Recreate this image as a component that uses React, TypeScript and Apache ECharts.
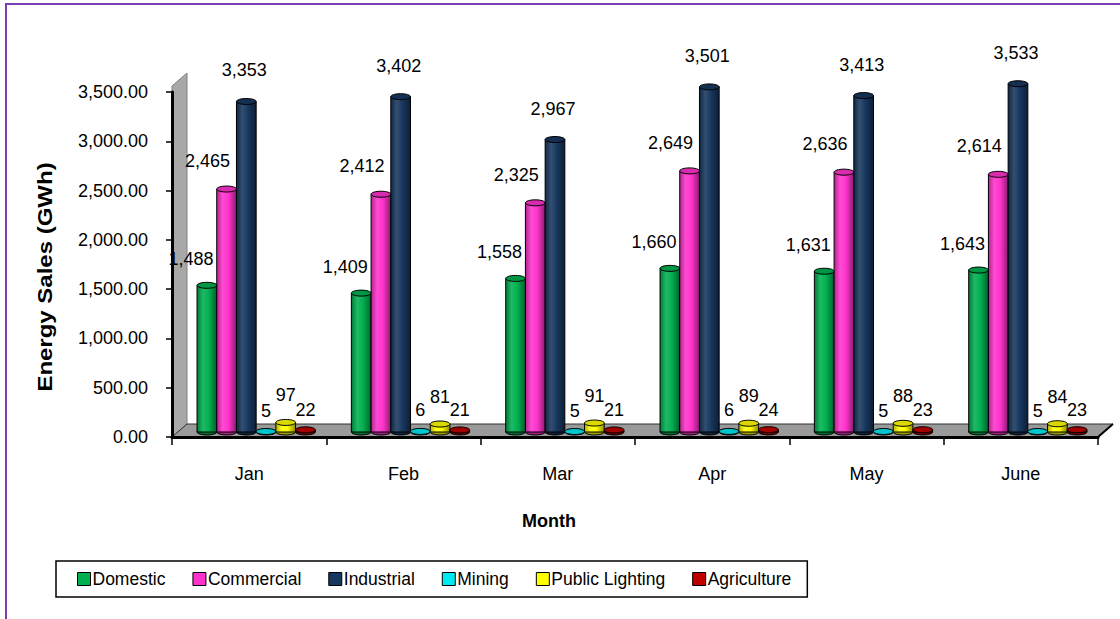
import React, { useEffect, useRef } from "react";
import * as echarts from "echarts";

const months = ["Jan", "Feb", "Mar", "Apr", "May", "June"];
const seriesNames = ["Domestic", "Commercial", "Industrial", "Mining", "Public Lighting", "Agriculture"];
const domestic = [1488, 1409, 1558, 1660, 1631, 1643];
const commercial = [2465, 2412, 2325, 2649, 2636, 2614];
const industrial = [3353, 3402, 2967, 3501, 3413, 3533];
const mining = [5, 6, 5, 6, 5, 5];
const publicLighting = [97, 81, 91, 89, 88, 84];
const agriculture = [22, 21, 21, 24, 23, 23];
const seriesValues = [domestic, commercial, industrial, mining, publicLighting, agriculture];
const yTicks = { min: 0, max: 3500, interval: 500 };

const colors = ["#00b050", "#ff33cc", "#17375e", "#00e8f0", "#ffff00", "#c00000"];
// label offsets (dx, dy) of the value label centre relative to bar top
const labelOffsets = [
  [-16, -26],
  [-19, -28],
  [-2, -31],
  [0, -21],
  [0, -27],
  [0, -20],
];

const FONT = '"Liberation Sans", Arial, sans-serif';
const GRID = { left: 172, right: 22, top: 92, bottom: 182 };
const W = 1120;
const H = 619;
const DEPTH_X = 15;
const DEPTH_Y = -13;
const BAR_DX = 7;
const BAR_DY = -5;

function shade(hex: string, f: number): string {
  const n = parseInt(hex.slice(1), 16);
  let r = (n >> 16) & 255, g = (n >> 8) & 255, b = n & 255;
  if (f <= 1) {
    r = Math.round(r * f); g = Math.round(g * f); b = Math.round(b * f);
  } else {
    const t = f - 1;
    r = Math.round(r + (255 - r) * t); g = Math.round(g + (255 - g) * t); b = Math.round(b + (255 - b) * t);
  }
  return `rgb(${r},${g},${b})`;
}

function makeRenderItem(si: number) {
  const color = colors[si];
  return (params: any, api: any) => {
    const idx = api.value(0);
    const val = api.value(1);
    const base = api.coord([idx, 0]);
    const top = api.coord([idx, val]);
    const catW = api.size([1, 0])[0];
    const barW = catW * 0.1277;
    const cx = base[0] + BAR_DX + (si - 2.5) * barW;
    const yBase = base[1] + BAR_DY;
    const yTop = top[1] + BAR_DY;
    const rx = barW / 2;
    const ry = 3;
    const grad = new echarts.graphic.LinearGradient(0, 0, 1, 0, [
      { offset: 0, color: shade(color, 0.7) },
      { offset: 0.3, color: shade(color, 1.12) },
      { offset: 0.6, color: color },
      { offset: 1, color: shade(color, 0.55) },
    ]);
    const [dx, dy] = labelOffsets[si];
    return {
      type: "group",
      children: [
        {
          type: "ellipse",
          shape: { cx, cy: yBase, rx, ry },
          style: { fill: shade(color, 0.6), stroke: "#000", lineWidth: 1 },
        },
        {
          type: "rect",
          shape: { x: cx - rx, y: yTop, width: barW, height: Math.max(0, yBase - yTop) },
          style: { fill: grad, stroke: "#000", lineWidth: 1 },
        },
        {
          type: "ellipse",
          shape: { cx, cy: yTop, rx, ry },
          style: { fill: shade(color, 0.85), stroke: "#000", lineWidth: 1 },
        },
        {
          type: "text",
          x: cx + dx,
          y: yTop + dy,
          style: {
            text: Math.round(val).toLocaleString("en-US"),
            fill: "#000",
            font: `18px ${FONT}`,
            align: "center",
            verticalAlign: "middle",
          },
        },
      ],
    };
  };
}

export default function App() {
  const ref = useRef<HTMLDivElement>(null);
  useEffect(() => {
    if (!ref.current) return;
    const chart = echarts.init(ref.current, undefined, { renderer: "svg" });
    const L = GRID.left;
    const R = W - GRID.right;
    const B = H - GRID.bottom;
    const T = GRID.top;
    const option: any = {
      animation: false,
      color: colors,
      textStyle: { fontFamily: FONT },
      grid: { ...GRID, containLabel: false },
      legend: {
        left: 56,
        top: 561,
        orient: "horizontal",
        icon: "rect",
        itemWidth: 13,
        itemHeight: 13,
        itemGap: 27,
        borderColor: "#000",
        borderWidth: 1.5,
        padding: [9, 16, 9, 21],
        itemStyle: { borderColor: "#000", borderWidth: 1 },
        textStyle: { fontSize: 17.5, color: "#000", fontFamily: FONT, padding: [0, 0, 0, -3] },
        data: seriesNames,
      },
      xAxis: {
        type: "category",
        data: months,
        boundaryGap: true,
        axisLine: { lineStyle: { color: "#000", width: 3 } },
        axisTick: { show: true, length: 8, lineStyle: { color: "#000", width: 1.5 } },
        axisLabel: { fontSize: 18, color: "#000", margin: 28, fontFamily: FONT },
        splitLine: { show: false },
      },
      yAxis: {
        type: "value",
        min: yTicks.min,
        max: yTicks.max,
        interval: yTicks.interval,
        axisLine: { show: true, lineStyle: { color: "#000", width: 3 } },
        axisTick: { show: true, length: 6, lineStyle: { color: "#000", width: 1.5 } },
        splitLine: { show: false },
        axisLabel: {
          fontSize: 18,
          color: "#000",
          margin: 24,
          fontFamily: FONT,
          formatter: (v: number) =>
            v.toLocaleString("en-US", { minimumFractionDigits: 2, maximumFractionDigits: 2 }),
        },
      },
      graphic: [
        {
          type: "polygon",
          z: -10,
          shape: { points: [[L, B], [L, T - 6], [L + DEPTH_X, T - 6 + DEPTH_Y], [L + DEPTH_X, B + DEPTH_Y]] },
          style: { fill: "#a8a8a8", stroke: "#808080", lineWidth: 1 },
        },
        {
          type: "polygon",
          z: -10,
          shape: { points: [[L, B], [L + DEPTH_X, B + DEPTH_Y], [R + DEPTH_X, B + DEPTH_Y], [R, B]] },
          style: { fill: "#9a9a9a", stroke: "#333", lineWidth: 1 },
        },
        {
          type: "line",
          z: -5,
          shape: { x1: R, y1: B, x2: R + DEPTH_X, y2: B + DEPTH_Y },
          style: { stroke: "#000", lineWidth: 2 },
        },
        {
          type: "text",
          x: 45,
          y: 277,
          rotation: Math.PI / 2,
          scaleX: 1.2,
          style: {
            text: "Energy Sales (GWh)",
            font: `bold 20px ${FONT}`,
            fill: "#000",
            align: "center",
            verticalAlign: "middle",
          },
        },
        {
          type: "text",
          x: 549,
          y: 521,
          style: {
            text: "Month",
            font: `bold 18px ${FONT}`,
            fill: "#000",
            align: "center",
            verticalAlign: "middle",
          },
        },
        {
          type: "line",
          shape: { x1: 6, y1: 3, x2: 6, y2: H },
          style: { stroke: "#7a3fb5", lineWidth: 2 },
        },
        {
          type: "line",
          shape: { x1: 5, y1: 4, x2: W, y2: 4 },
          style: { stroke: "#7a3fb5", lineWidth: 2 },
        },
      ],
      series: seriesNames.map((name, si) => ({
        name,
        type: "custom",
        itemStyle: { color: colors[si] },
        encode: { x: 0, y: 1 },
        data: seriesValues[si].map((v, i) => [i, v]),
        renderItem: makeRenderItem(si),
        z: 3,
      })),
    };
    chart.setOption(option);
    return () => chart.dispose();
  }, []);
  return (
    <div
      ref={ref}
      style={{ position: "fixed", left: 0, top: 0, width: W, height: H, background: "#fff" }}
    />
  );
}
